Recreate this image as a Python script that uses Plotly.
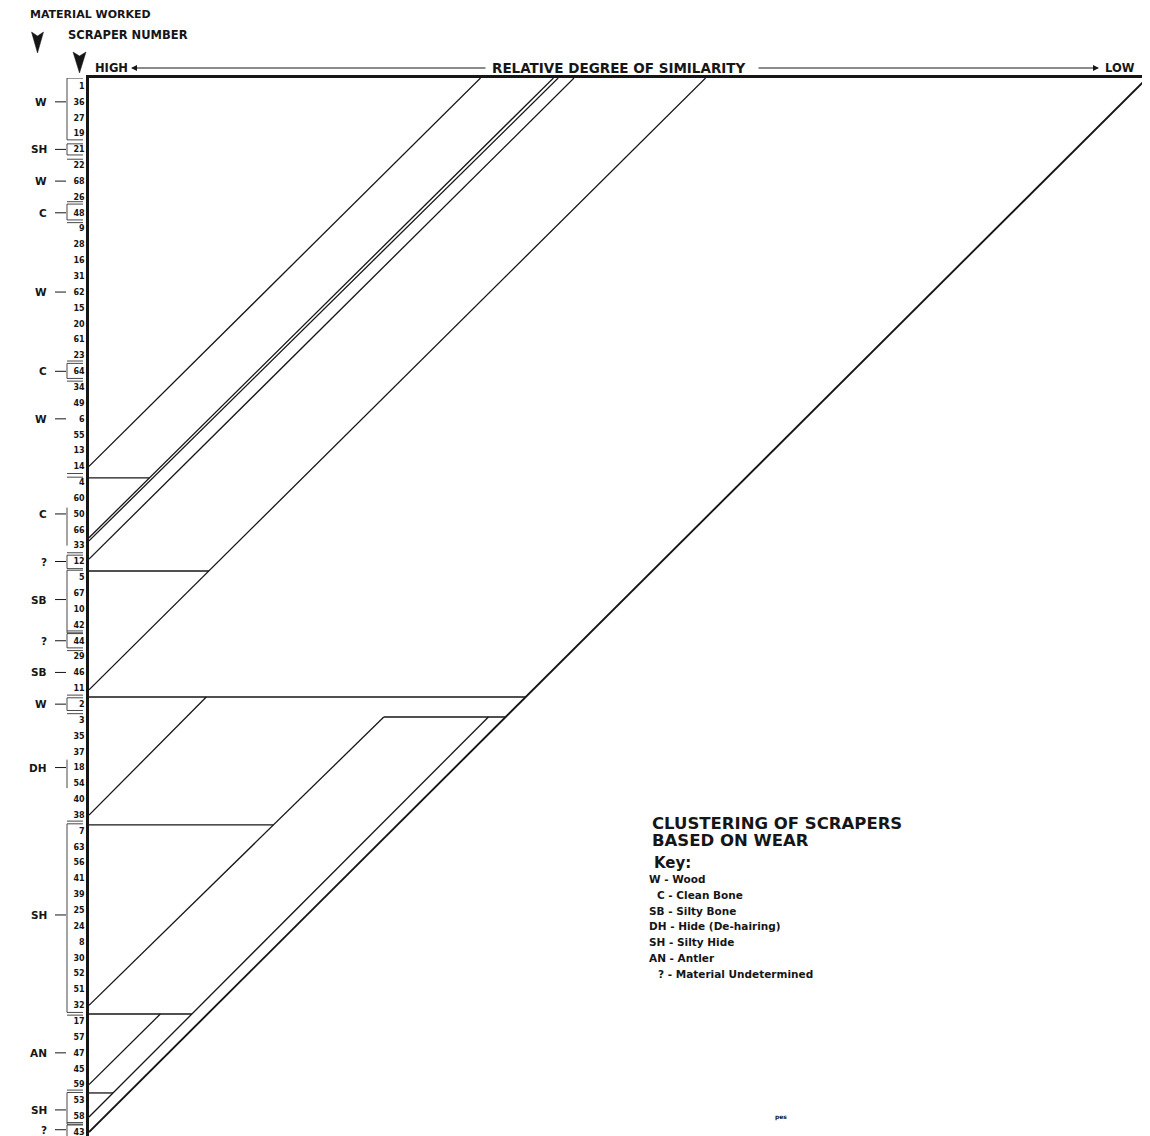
import plotly.graph_objects as go

# ---------------- data ----------------
scraper_numbers = ["1", "36", "27", "19", "21", "22", "68", "26", "48", "9", "28", "16", "31",
                   "62", "15", "20", "61", "23", "64", "34", "49", "6", "55", "13", "14", "4",
                   "60", "50", "66", "33", "12", "5", "67", "10", "42", "44", "29", "46", "11",
                   "2", "3", "35", "37", "18", "54", "40", "38", "7", "63", "56", "41", "39",
                   "25", "24", "8", "30", "52", "51", "32", "17", "57", "47", "45", "59", "53",
                   "58", "43"]
scraper_rows = list(range(len(scraper_numbers)))

material_codes = ["W", "SH", "W", "C", "W", "C", "W", "C", "?", "SB", "?", "SB", "W", "DH",
                  "SH", "AN", "SH", "?"]
material_rows = [1, 4, 6, 8, 13, 18, 21, 27, 30, 32.4, 35, 37, 39, 43, 52.3, 61, 64.6, 65.85]

# bracket spans (row edges) drawn beside the scraper numbers
bracket_top = [-0.5, 3.65, 7.45, 17.5, 26.6, 29.6, 30.55, 34.55, 38.6, 42.5, 46.55, 63.5, 65.55]
bracket_bottom = [3.4, 4.35, 8.45, 18.45, 29.0, 30.45, 34.5, 35.45, 39.4, 44.3, 58.45, 65.5, 66.3]
bracket_has_ticks = [True, True, True, True, False, True, True, True, True, False, True, True, True]
# extra short rules between groups (doubled lines)
rule_rows = [4.62, 7.3, 8.62, 17.35, 18.62, 24.45, 24.68, 29.45, 34.38, 35.62, 38.43, 39.6,
             46.38, 58.62, 63.35, 65.4]

# dendrogram: diagonals (start on the axis, end at a merge level)
diag_start_row = [24.0, 28.5, 28.7, 29.85, 38.1, 46.0, 58.0, 63.0, 65.05, 66.0]
diag_end_row = [-0.5, -0.5, -0.5, -0.5, -0.5, 38.55, 39.81, 58.55, 39.81, -0.5]
diag_end_sim = [24.7, 29.3, 29.6, 30.6, 38.9, 7.4, 18.6, 4.5, 25.2, 66.75]

# horizontals: row, start similarity, diagonal they run into
horiz_row = [24.73, 30.6, 38.55, 39.81, 46.62, 58.55, 63.53]
horiz_start_sim = [0, 0, 0, 18.6, 0, 0, 0]
horiz_target = [1, 4, 9, 9, 6, 8, 8]

key_codes = ["W", "C", "SB", "DH", "SH", "AN", "?"]
key_names = ["Wood", "Clean Bone", "Silty Bone", "Hide (De-hairing)", "Silty Hide", "Antler",
             "Material Undetermined"]

# ---------------- geometry (page pixels; page body has an 8px margin) ----------------
OFF = 8
PAGE_W, PAGE_H = 1150, 1136
PL, PT, PR, PB = 89, 78, 1147, 1136          # plot area edges in page pixels
W, H = PAGE_W - OFF, PAGE_H - OFF
PW, PH = PR - PL, PB - PT
ROW0, STEP = 86.0, 15.85
top_row = (PT - ROW0) / STEP
bot_row = (PB - ROW0) / STEP
x_max = PW / STEP

FONT = "DejaVu Sans"
INK = "#161616"


def px_x(xp):
    return (xp - PL) / PW


def px_y(yp):
    return (PB - yp) / PH


fig = go.Figure()

# diagonals
for i in range(len(diag_start_row)):
    fig.add_trace(go.Scatter(
        x=[0, diag_end_sim[i]], y=[diag_start_row[i], diag_end_row[i]],
        mode="lines", line=dict(color=INK, width=1.9 if i == len(diag_start_row) - 1 else 1.3),
        hoverinfo="skip", showlegend=False))


def diag_x_at(j, row):
    r0, r1, x1 = diag_start_row[j], diag_end_row[j], diag_end_sim[j]
    return (r0 - row) / (r0 - r1) * x1


for i in range(len(horiz_row)):
    x_end = diag_x_at(horiz_target[i], horiz_row[i])
    fig.add_trace(go.Scatter(
        x=[horiz_start_sim[i], x_end], y=[horiz_row[i], horiz_row[i]],
        mode="lines", line=dict(color=INK, width=1.3), hoverinfo="skip", showlegend=False))

shapes = []
annotations = []
THIN = dict(color="#333333", width=0.9)

# brackets
for a, b, tk in zip(bracket_top, bracket_bottom, bracket_has_ticks):
    shapes.append(dict(type="line", xref="paper", yref="y", x0=px_x(67), x1=px_x(67), y0=a, y1=b,
                       line=THIN))
    if tk:
        for yy in (a, b):
            shapes.append(dict(type="line", xref="paper", yref="y", x0=px_x(67), x1=px_x(83),
                               y0=yy, y1=yy, line=THIN))
for r in rule_rows:
    shapes.append(dict(type="line", xref="paper", yref="y", x0=px_x(67), x1=px_x(83),
                       y0=r, y1=r, line=THIN))

# material labels with dashes
for code, r in zip(material_codes, material_rows):
    annotations.append(dict(text=code, xref="paper", yref="y", x=px_x(49), y=r,
                            xanchor="right", yanchor="middle", showarrow=False,
                            font=dict(family=FONT, size=10.5, color=INK, weight="bold")))
    shapes.append(dict(type="line", xref="paper", yref="y", x0=px_x(55), x1=px_x(66), y0=r, y1=r,
                       line=dict(color=INK, width=1)))


def txt(s, xp, yp, size, xanchor="left", yanchor="middle"):
    annotations.append(dict(text=s, xref="paper", yref="paper", x=px_x(xp), y=px_y(yp),
                            xanchor=xanchor, yanchor=yanchor, showarrow=False,
                            font=dict(family=FONT, size=size, color=INK, weight="bold")))


# header
txt("MATERIAL WORKED", 28, 15, 11)
txt("SCRAPER NUMBER", 66, 35, 11.5)
txt("HIGH", 93, 68, 11.5)
txt("RELATIVE DEGREE OF SIMILARITY", 490, 68, 13.5)
txt("LOW", 1103, 68, 11.5)

# similarity arrows
for head, tail in ((131, 487), (1099, 757)):
    annotations.append(dict(text="", xref="paper", yref="paper", x=px_x(head), y=px_y(68),
                            axref="pixel", ayref="pixel", ax=tail - head, ay=0,
                            showarrow=True, arrowhead=2, arrowsize=1.2, arrowwidth=1,
                            arrowcolor=INK))

# downward arrowheads
for cx, ty, w2, hh in ((37.5, 32, 6, 21), (79.5, 52, 6.5, 21)):
    path = "M {} {} L {} {} L {} {} L {} {} Z".format(
        px_x(cx - w2), px_y(ty), px_x(cx), px_y(ty + 4), px_x(cx + w2), px_y(ty),
        px_x(cx), px_y(ty + hh))
    shapes.append(dict(type="path", xref="paper", yref="paper", path=path,
                       fillcolor=INK, line=dict(color=INK, width=0.5)))

# title & key
txt("CLUSTERING OF SCRAPERS", 650, 823, 16.5)
txt("BASED ON WEAR", 650, 840, 16.5)
txt("Key:", 652, 863, 15)
key_x = [647, 655, 647, 647, 647, 647, 656]
for i, (c, n) in enumerate(zip(key_codes, key_names)):
    yp = 879 + i * 15.8
    txt(c + " - " + n, key_x[i], yp, 10.5)
txt("pes", 773, 1117, 6)

fig.update_layout(
    width=W, height=H,
    margin=dict(l=PL - OFF, r=PAGE_W - PR, t=PT - OFF, b=PAGE_H - PB, autoexpand=False),
    paper_bgcolor="white", plot_bgcolor="white",
    xaxis=dict(range=[0, x_max], side="top", showline=True, linewidth=2.6, linecolor=INK,
               showgrid=False, zeroline=False, showticklabels=False, ticks=""),
    yaxis=dict(range=[bot_row, top_row], showline=True, linewidth=2.6, linecolor=INK,
               showgrid=False, zeroline=False, ticks="", tickvals=scraper_rows,
               ticktext=scraper_numbers, ticklabelstandoff=0, ticklabeloverflow="allow",
               tickfont=dict(family=FONT, size=8, color=INK, weight="bold")),
    shapes=shapes, annotations=annotations, showlegend=False,
)

fig.write_html("out.html")
